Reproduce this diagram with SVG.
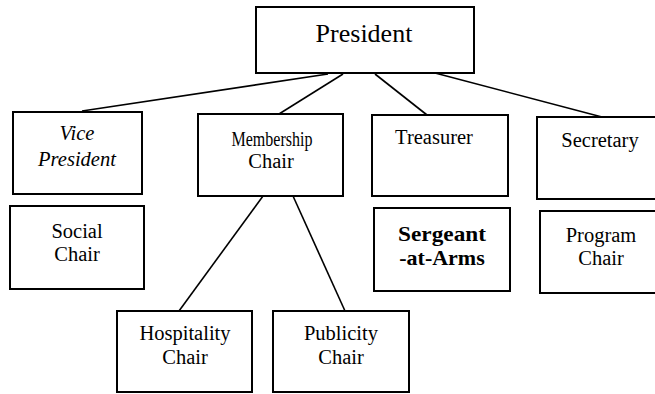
<svg xmlns="http://www.w3.org/2000/svg" width="655" height="394" viewBox="0 0 655 394">
<style>
.box{fill:#fff;stroke:#000;stroke-width:2}
.t{font-size:20.5px;fill:#000;text-anchor:middle}
.conn line{stroke:#000;stroke-width:1.6}
</style>
<rect width="655" height="394" fill="#fff"/>
<g class="conn" id="connectors">
<line x1="328" y1="74" x2="82" y2="111"/>
<line x1="343" y1="74" x2="279" y2="114"/>
<line x1="375" y1="74" x2="427" y2="115"/>
<line x1="435" y1="73" x2="602" y2="117"/>
<line x1="263" y1="196" x2="179" y2="311"/>
<line x1="293" y1="196" x2="345" y2="311"/>
</g>
<g font-family="'Liberation Serif', 'Times New Roman', 'DejaVu Serif', serif">
<g id="president"><rect class="box" x="256" y="7" width="218" height="66"/><text class="t" x="364" y="42" style="font-size:26px">President</text></g>
<g id="vice-president"><rect class="box" x="13" y="112" width="129" height="82"/><text class="t" x="77" y="140" font-style="italic">Vice</text><text class="t" x="77" y="166" font-style="italic">President</text></g>
<g id="membership-chair"><rect class="box" x="198" y="114" width="145" height="82"/><text class="t" x="272" y="146" textLength="81" lengthAdjust="spacingAndGlyphs">Membership</text><text class="t" x="271" y="168">Chair</text></g>
<g id="treasurer"><rect class="box" x="372" y="115" width="136" height="81"/><text class="t" x="434" y="144">Treasurer</text></g>
<g id="secretary"><rect class="box" x="537" y="117" width="126" height="82"/><text class="t" x="600" y="147">Secretary</text></g>
<g id="social-chair"><rect class="box" x="10" y="206" width="134" height="83"/><text class="t" x="77" y="238">Social</text><text class="t" x="77" y="261">Chair</text></g>
<g id="sergeant-at-arms"><rect class="box" x="374" y="208" width="136" height="83"/><text class="t" x="442" y="241" font-weight="bold" style="font-size:22px" textLength="88" lengthAdjust="spacingAndGlyphs">Sergeant</text><text class="t" x="442" y="265" font-weight="bold" style="font-size:22px">-at-Arms</text></g>
<g id="program-chair"><rect class="box" x="540" y="211" width="123" height="82"/><text class="t" x="601" y="242">Program</text><text class="t" x="601" y="265">Chair</text></g>
<g id="hospitality-chair"><rect class="box" x="117" y="311" width="135" height="81"/><text class="t" x="185" y="340">Hospitality</text><text class="t" x="185" y="364">Chair</text></g>
<g id="publicity-chair"><rect class="box" x="273" y="311" width="136" height="81"/><text class="t" x="341" y="340">Publicity</text><text class="t" x="341" y="364">Chair</text></g>
</g>
</svg>
